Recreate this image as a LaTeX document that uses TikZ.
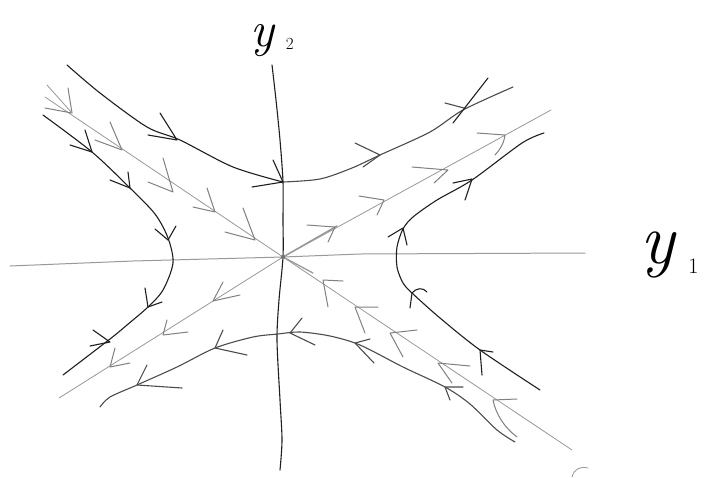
\documentclass[tikz,border=0pt]{standalone}
\begin{document}
\begin{tikzpicture}[x=1pt,y=-1pt,
  blk/.style={draw=black!88,line width=1.1pt,line cap=round,line join=round},
  dkg/.style={draw=black!70,line width=1.1pt,line cap=round,line join=round},
  gry/.style={draw=black!40,line width=0.8pt,line cap=round,line join=round},
  gra/.style={draw=black!50,line width=1pt,line cap=round,line join=round}]
\useasboundingbox[fill=white] (0,0) rectangle (704,477);

% origin
\coordinate (O) at (283,257);

% axes
\draw[gry,line width=1pt] (10,266) -- (133,261) -- (O) -- (360,254) -- (585,253);
\draw[blk] plot[smooth] coordinates {(272,65) (276,100) (280,140) (283,182) (283,220) (O) (279,300) (277,340) (280,400) (282,440) (280,470)};

% eigen-directions (gray)
\draw[gry] (45,97) -- (O) -- (572,450);
\draw[gry] (59,398) -- (O) -- (551,110);
\draw[gry,line width=1.5pt] (O) -- (337,226);
\draw[gry,line width=1.3pt] (O) -- (313,273);
\fill[black!55] (O) circle (2.2pt);

% top hyperbola branch
\draw[blk] plot[smooth] coordinates {(67,65) (100,93) (147,127) (180,140) (233,167) (283,182)};
\draw[dkg] plot[smooth] coordinates {(283,182) (320,179) (352,168) (380,155) (430,132) (463,110) (513,87)};
% left branch
\draw[blk] plot[smooth] coordinates {(43,115) (92,152) (130,188) (155,214) (168,238) (173,263) (163,290) (148,307) (127,325) (110,339) (63,375)};
% right branch
\draw[blk] plot[smooth] coordinates {(544,133) (522,143) (472,180) (437,200) (413,217) (403,229) (397,247) (397,267) (403,283) (412,293) (440,318) (480,350) (540,390)};
% bottom branch
\draw[dkg] plot[smooth] coordinates {(100,407) (110,397) (137,385) (177,367) (215,348) (253,337) (278,334) (300,332) (330,336) (360,345) (403,367) (445,387) (470,404) (497,430) (515,442)};

% arrowheads: top branch
\draw[blk] (160,113) -- (177,140) -- (148,135);
\draw[blk] (273,160) -- (283,182) -- (252,187);
\draw[dkg] (355,143) -- (380,155) -- (363,167);
\draw[dkg] (445,103) -- (464,108);
\draw[blk] (488,78) -- (453,123);
% left branch
\draw[blk] (85,130) -- (92,152) -- (70,145);
\draw[blk] (128,172) -- (130,188) -- (110,180);
\draw[blk] (155,229) -- (168,240) -- (176,226);
\draw[blk] (145,288) -- (148,307) -- (162,302);
\draw[blk] (93,330) -- (110,342) -- (90,346);
% right branch
\draw[blk] (453,183) -- (472,179) -- (465,200);
\draw[blk] (388,237) -- (403,228) -- (407,245);
\draw[blk] (427,292) .. controls (423,287) and (416,288) .. (412,293) -- (410,308);
\draw[blk] (493,352) -- (480,350) -- (482,375);
% bottom branch
\draw[dkg] (370,339) -- (355,343) -- (374,363);
\draw[dkg] (463,387) -- (445,387) -- (450,400);
\draw[dkg] (302,318) -- (290,333) -- (315,345);
\draw[dkg] (223,330) -- (215,348) -- (247,355);
\draw[dkg] (147,365) -- (137,385) -- (182,388);

% arrowheads: stable direction (towards origin)
\draw[gra] (68,88) -- (72,113) -- (45,108);
\draw[gry] (47,85) -- (72,113);
\draw[gra] (110,122) -- (122,150) -- (95,140);
\draw[gra] (163,158) -- (173,192) -- (148,182);
\draw[gra] (207,188) -- (215,212) -- (193,207);
\draw[gra] (243,208) -- (255,240) -- (225,232);
\draw[gra] (343,281) -- (323,280) -- (328,307);
\draw[gra] (378,307) -- (355,307) -- (365,333);
\draw[gra] (417,330) -- (390,333) -- (403,357);
\draw[gra] (470,366) -- (438,363) -- (452,383);
\draw[gra] (517,399) -- (493,400) .. controls (496,415) and (505,428) .. (517,437);

% arrowheads: unstable direction (away from origin)
\draw[gra] (307,225) -- (335,227) -- (328,242);
\draw[gra] (359,196) -- (384,200) -- (377,215);
\draw[gra] (412,167) -- (448,170) -- (434,183);
\draw[gra] (477,133) -- (505,135) .. controls (504,143) and (500,150) .. (495,155);
\draw[gra] (223,282) -- (213,301) -- (240,295);
\draw[gra] (167,320) -- (163,335) -- (188,332);
\draw[gra] (115,348) -- (110,367) -- (130,363);

% stray mark bottom right
\draw[gry] (572,477) .. controls (574,469) and (580,466) .. (588,468);

% labels
\node[anchor=base west,inner sep=0pt,text height=24pt] (ly2) at (250,46) {\fontsize{50}{50}\selectfont\itshape y\hspace{12pt}\raisebox{-3pt}{\fontsize{17}{17}\selectfont\upshape 2}};
\node[anchor=base west,inner sep=0pt] (ly1) at (640,263) {\fontsize{72}{72}\selectfont\itshape y\hspace{14pt}\raisebox{-10pt}{\fontsize{22}{22}\selectfont\upshape 1}};
\end{tikzpicture}
\end{document}
